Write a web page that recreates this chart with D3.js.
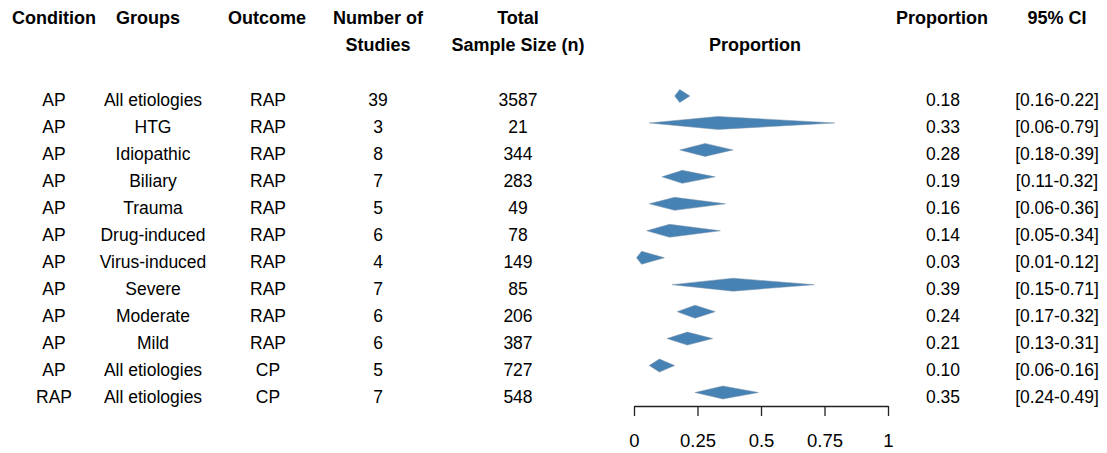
<!DOCTYPE html>
<html>
<head>
<meta charset="utf-8">
<script src="https://cdn.jsdelivr.net/npm/d3@7.9.0/dist/d3.min.js"></script>
<style>
  body { margin: 0; background: #fff; }
  svg { display: block; font-family: "Liberation Sans", Arial, sans-serif; }
</style>
</head>
<body>
<svg id="chart" width="1107" height="453"></svg>
<script>
// table data, one entry per row
const conditions = ["AP", "AP", "AP", "AP", "AP", "AP", "AP", "AP", "AP", "AP", "AP", "RAP"];
const groups = ["All etiologies", "HTG", "Idiopathic", "Biliary", "Trauma", "Drug-induced",
  "Virus-induced", "Severe", "Moderate", "Mild", "All etiologies", "All etiologies"];
const outcomes = ["RAP", "RAP", "RAP", "RAP", "RAP", "RAP", "RAP", "RAP", "RAP", "RAP", "CP", "CP"];
const studies = [39, 3, 8, 7, 5, 6, 4, 7, 6, 6, 5, 7];
const samples = [3587, 21, 344, 283, 49, 78, 149, 85, 206, 387, 727, 548];
const proportions = [0.18, 0.33, 0.28, 0.19, 0.16, 0.14, 0.03, 0.39, 0.24, 0.21, 0.10, 0.35];
const ciLow = [0.16, 0.06, 0.18, 0.11, 0.06, 0.05, 0.01, 0.15, 0.17, 0.13, 0.06, 0.24];
const ciHigh = [0.22, 0.79, 0.39, 0.32, 0.36, 0.34, 0.12, 0.71, 0.32, 0.31, 0.16, 0.49];
const tickValues = [0, 0.25, 0.5, 0.75, 1];
const tickLabels = ["0", "0.25", "0.5", "0.75", "1"];

const rows = conditions.map((c, i) => ({
  i, condition: c, group: groups[i], outcome: outcomes[i],
  studies: studies[i], n: samples[i],
  est: proportions[i], lo: ciLow[i], hi: ciHigh[i]
}));

const svg = d3.select('#chart');

// scales
const x = d3.scaleLinear().domain([0, 1]).range([634, 888]);
const y = d3.scalePoint().domain(d3.range(rows.length)).range([96, 392.5]);

// column headers
const headers = [
  { cx: 54, lines: ["Condition"] },
  { cx: 148, lines: ["Groups"] },
  { cx: 267, lines: ["Outcome"] },
  { cx: 378, lines: ["Number of", "Studies"] },
  { cx: 518, lines: ["Total", "Sample Size (n)"] },
  { cx: 755, lines: ["", "Proportion"] },
  { cx: 942, lines: ["Proportion"] },
  { cx: 1057, lines: ["95% CI"] }
];

headers.forEach(h => {
  h.lines.forEach((t, k) => {
    if (!t) return;
    svg.append('text')
      .attr('x', h.cx)
      .attr('y', 24 + k * 27)
      .attr('text-anchor', 'middle')
      .attr('font-size', 18)
      .attr('font-weight', 'bold')
      .attr('fill', '#000')
      .text(t);
  });
});

// table columns
const columns = [
  { cx: 54, val: d => d.condition },
  { cx: 153, val: d => d.group },
  { cx: 268, val: d => d.outcome },
  { cx: 378, val: d => d.studies },
  { cx: 518, val: d => d.n },
  { cx: 943, val: d => d.est.toFixed(2) },
  { cx: 1057, val: d => `[${d.lo.toFixed(2)}-${d.hi.toFixed(2)}]` }
];

columns.forEach(col => {
  svg.append('g').selectAll('text')
    .data(rows)
    .join('text')
    .attr('x', col.cx)
    .attr('y', d => y(d.i) + 10)
    .attr('text-anchor', 'middle')
    .attr('font-size', 17.5)
    .attr('fill', '#000')
    .text(col.val);
});

// diamonds: CI from lo to hi, peak at estimate
const halfH = 6.5;
svg.append('g').selectAll('path')
  .data(rows)
  .join('path')
  .attr('d', d => {
    const cy = y(d.i);
    return `M${x(d.lo)},${cy}L${x(d.est)},${cy - halfH}L${x(d.hi)},${cy}L${x(d.est)},${cy + halfH}Z`;
  })
  .attr('fill', '#4682B4')
  .attr('stroke', '#7d93a8')
  .attr('stroke-width', 0.5);

// x axis
const axis = svg.append('g')
  .attr('transform', 'translate(0,406)')
  .call(d3.axisBottom(x)
    .tickValues(tickValues)
    .tickFormat((d, i) => tickLabels[i])
    .tickSize(10)
    .tickSizeOuter(0));

axis.select('.domain').attr('stroke', '#222').attr('stroke-width', 1.3);
axis.selectAll('.tick line').attr('stroke', '#222').attr('stroke-width', 1.3);
axis.selectAll('.tick text')
  .attr('y', 41)
  .attr('dy', 0)
  .attr('font-size', 18.5)
  .attr('font-family', '"Liberation Sans", Arial, sans-serif')
  .attr('fill', '#000');
</script>
</body>
</html>
